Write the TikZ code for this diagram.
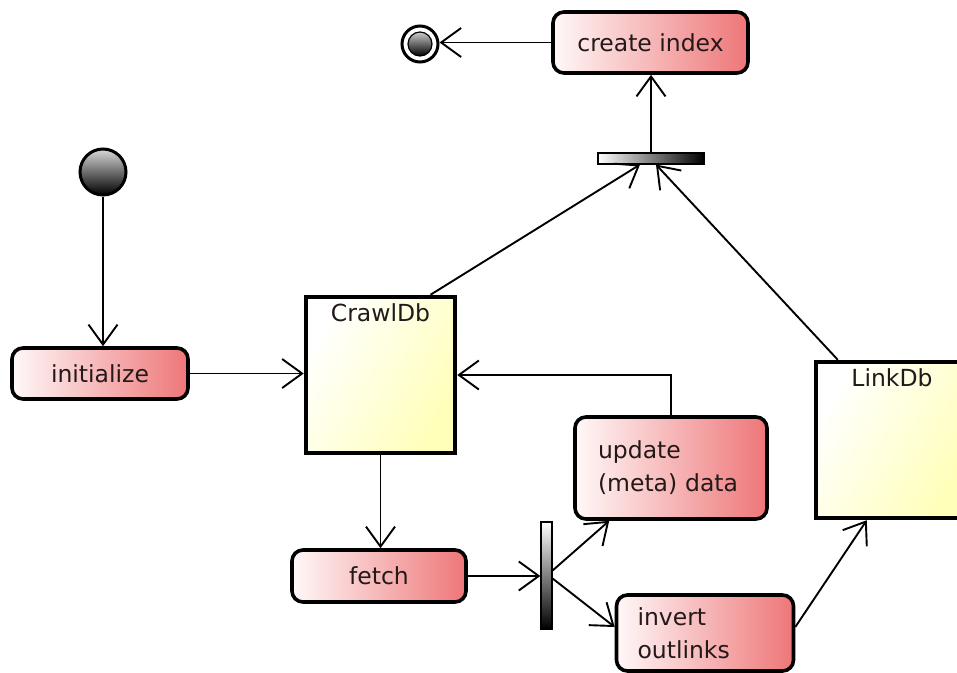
\documentclass[tikz,border=0pt]{standalone}
\usepackage{fontspec}
\setmainfont{DejaVu Sans}
\usetikzlibrary{arrows.meta}
\definecolor{actred}{RGB}{238,118,120}
\definecolor{actlight}{RGB}{255,248,248}
\definecolor{dbyellow}{RGB}{255,255,185}
\definecolor{txt}{RGB}{35,25,25}
\begin{document}
\begin{tikzpicture}[x=1pt,y=-1pt,
  lbl/.style={font=\fontsize{23.5}{33}\selectfont, text=txt},
  action/.style={lbl, draw=black, line width=3.6pt, rounded corners=11pt,
    left color=actlight, right color=actred, inner sep=0pt},
  store/.style={draw=black, line width=4.5pt, rectangle,
    left color=white, right color=dbyellow, shading angle=60, inner sep=0pt},
  hbar/.style={draw=black, line width=1.2pt, left color=white, right color=black, inner sep=0pt},
  vbar/.style={draw=black, line width=1.2pt, top color=white, bottom color=black, inner sep=0pt},
  flow/.style={line width=1.9pt, -{Straight Barb[length=20pt,width=29pt,line width=1.9pt]}}
]
\useasboundingbox (0,0) rectangle (957,672);

% initial and final states
\node[circle, draw=black, line width=3pt, minimum size=46pt, inner sep=0pt,
      top color=gray!30, bottom color=black] (start) at (103,172) {};
\node[circle, draw=black, line width=3pt, fill=white, minimum size=36pt, inner sep=0pt] (final) at (420,44) {};
\node[circle, draw=black, line width=1.2pt, minimum size=24pt, inner sep=0pt,
      top color=gray!40, bottom color=black] (finalin) at (final.center) {};

% actions
\node[action, minimum width=176pt, minimum height=51pt] (init) at (100,373.5) {initialize};
\node[action, minimum width=195pt, minimum height=61pt] (ci) at (650.5,42.5) {create index};
\node[action, minimum width=174pt, minimum height=52pt] (fetch) at (379,576) {fetch};
\node[action, minimum height=102pt, text width=146pt, align=left, inner xsep=23pt] (upd) at (671,468) {update\\(meta) data};
\node[action, minimum height=76pt, text width=135pt, align=left, inner xsep=21pt] (inv) at (705,633) {invert\\outlinks};

% data stores
\node[store, minimum width=149pt, minimum height=156pt,
      label={[lbl, anchor=north, yshift=-5pt]north:CrawlDb}] (crawl) at (380.5,375) {};
\node[store, minimum width=152pt, minimum height=156pt,
      label={[lbl, anchor=north, yshift=-5pt]north:LinkDb}] (link) at (892,440) {};

% fork / join bars
\node[hbar, minimum width=106pt, minimum height=11pt] (tbar) at (651,158.5) {};
\node[vbar, minimum width=11pt, minimum height=107pt] (fbar) at (546.5,575.5) {};

% connectors
\draw[flow] (start.south) -- (start.south |- init.north);
\draw[flow] (init.east) -- (init.east -| crawl.west);
\draw[flow] (crawl.south) -- (crawl.south |- fetch.north);
\draw[flow] (fetch.east) -- (fetch.east -| fbar.west);
\draw[flow] ([yshift=5pt]fbar.east) -- ([xshift=36pt]upd.south west);
\draw[flow] ([yshift=-3pt]fbar.east) -- ([yshift=6pt]inv.west);
\draw[flow] ([yshift=6pt]inv.east) -- ([xshift=53pt]link.south west);
\draw[flow] (upd.north) |- (crawl.east);
\draw[flow] ([xshift=50pt]crawl.north) -- ([xshift=-11pt]tbar.south);
\draw[flow] ([xshift=24pt]link.north west) -- ([xshift=5pt]tbar.south);
\draw[flow] (tbar.north) -- (tbar.north |- ci.south);
\draw[flow] (ci.west) -- (ci.west -| final.east);
\end{tikzpicture}
\end{document}
